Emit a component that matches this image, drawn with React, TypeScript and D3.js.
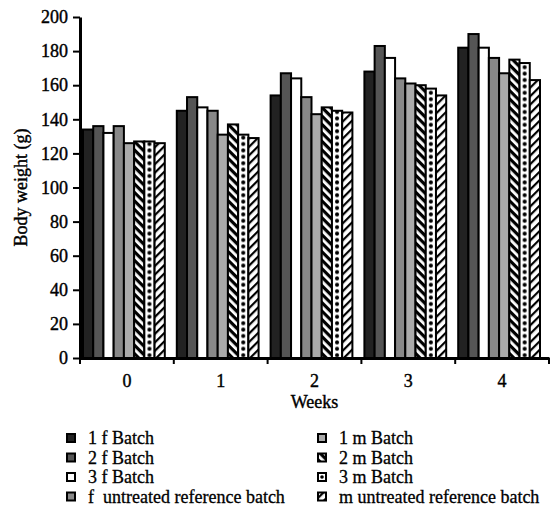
import { useRef, useEffect } from 'react';
import * as d3 from 'd3';

const weeks = ['0', '1', '2', '3', '4'];
const batches = [
  '1 f Batch',
  '2 f Batch',
  '3 f Batch',
  'f  untreated reference batch',
  '1 m Batch',
  '2 m Batch',
  '3 m Batch',
  'm untreated reference batch',
];
// one array per batch, values for weeks 0..4
const f1 = [134, 145, 154, 168, 182];
const f2 = [136, 153, 167, 183, 190];
const f3 = [132, 147, 164, 176, 182];
const fRef = [136, 145, 153, 164, 176];
const m1 = [126, 131, 143, 161, 167];
const m2 = [127, 137, 147, 160, 175];
const m3 = [127, 131, 145, 158, 173];
const mRef = [126, 129, 144, 154, 163];
const series = [f1, f2, f3, fRef, m1, m2, m3, mRef];
const yTicks = [0, 20, 40, 60, 80, 100, 120, 140, 160, 180, 200];

const fills = ['#222', '#555', '#fff', '#888', '#aaa', 'url(#hatchA)', 'url(#dots)', 'url(#hatchB)'];
const legendFills = ['#222', '#555', '#fff', '#888', '#aaa', 'url(#hatchA)', 'url(#dotsL)', 'url(#hatchB)'];
const font = '"Liberation Serif", "DejaVu Serif", serif';

export default function App() {
  const gx = useRef<SVGGElement>(null);
  const gy = useRef<SVGGElement>(null);

  const width = 557;
  const height = 515;
  const left = 80;
  const right = 549;
  const top = 17;
  const bottom = 358;

  const x = d3.scaleBand().domain(weeks).range([left, right]);
  const inner = d3
    .scaleBand<number>()
    .domain(d3.range(batches.length))
    .range([3, x.bandwidth() - 9]);
  const y = d3.scaleLinear().domain([0, 200]).range([bottom, top]);
  const dotX = (inner(6) ?? 0) + inner.bandwidth() / 2;

  useEffect(() => {
    const ax = gx.current;
    const ay = gy.current;
    if (ax) {
      const sel = d3.select(ax);
      sel.call(d3.axisBottom(x).tickSize(0).tickPadding(16));
      sel.select('.domain').attr('stroke-width', 3);
      // boundary ticks between the week groups
      sel
        .selectAll('line.sep')
        .data(d3.range(weeks.length + 1))
        .join('line')
        .attr('class', 'sep')
        .attr('x1', (i) => left + i * x.step())
        .attr('x2', (i) => left + i * x.step())
        .attr('y1', 0)
        .attr('y2', 6)
        .attr('stroke', '#000')
        .attr('stroke-width', 2);
      sel
        .selectAll('text')
        .attr('font-family', font)
        .attr('font-size', 18)
        .attr('fill', '#000')
        .attr('stroke', '#000')
        .attr('stroke-width', 0.4);
    }
    if (ay) {
      const sel = d3.select(ay);
      sel.call(d3.axisLeft(y).tickValues(yTicks).tickSize(7).tickPadding(5).tickSizeOuter(0));
      sel.select('.domain').attr('stroke-width', 3);
      sel.selectAll('.tick line').attr('stroke-width', 2);
      sel
        .selectAll('text')
        .attr('font-family', font)
        .attr('font-size', 18)
        .attr('fill', '#000')
        .attr('stroke', '#000')
        .attr('stroke-width', 0.4);
    }
    return () => {
      d3.select(ax).selectAll('*').remove();
      d3.select(ay).selectAll('*').remove();
    };
  });

  return (
    <svg width={width} height={height} style={{ position: 'absolute', left: 0, top: 0 }}>
      <defs>
        <pattern id="hatchA" width="6" height="6" patternUnits="userSpaceOnUse" patternTransform="rotate(45)">
          <rect width="6" height="6" fill="#fff" />
          <rect width="6" height="3.2" fill="#000" />
        </pattern>
        <pattern id="hatchB" width="6" height="6" patternUnits="userSpaceOnUse" patternTransform="rotate(-45)">
          <rect width="6" height="6" fill="#fff" />
          <rect width="6" height="2.2" fill="#000" />
        </pattern>
        <pattern id="dots" x={dotX - 5} y={0} width="10" height="6.4" patternUnits="userSpaceOnUse">
          <rect width="10" height="6.4" fill="#fff" />
          <circle cx="5" cy="3.2" r="2" fill="#000" />
        </pattern>
        <pattern id="dotsL" x={-1} y={-5} width="10" height="10" patternUnits="userSpaceOnUse">
          <rect width="10" height="10" fill="#fff" />
          <circle cx="5" cy="5" r="1.8" fill="#000" />
        </pattern>
      </defs>
      {weeks.map((w, wi) => (
        <g key={w} transform={`translate(${x(w)},0)`}>
          {series.map((s, si) => (
            <rect
              key={si}
              x={inner(si)}
              y={y(s[wi])}
              width={inner.bandwidth()}
              height={y(0) - y(s[wi])}
              fill={fills[si]}
              stroke="#000"
              strokeWidth={2}
            />
          ))}
        </g>
      ))}
      <g ref={gx} transform={`translate(0,${bottom})`} />
      <g ref={gy} transform={`translate(${left},0)`} />
      <text
        transform={`translate(27,${(top + bottom) / 2}) rotate(-90)`}
        textAnchor="middle"
        fontFamily={font}
        fontSize={18}
        stroke="#000"
        strokeWidth={0.4}
      >
        Body weight (g)
      </text>
      <text
        x={(left + right) / 2}
        y={408}
        textAnchor="middle"
        fontFamily={font}
        fontSize={18}
        stroke="#000"
        strokeWidth={0.4}
      >
        Weeks
      </text>
      {batches.map((b, i) => {
        const col = Math.floor(i / 4);
        const row = i % 4;
        const lx = col === 0 ? 67 : 318;
        const ly = 438 + row * 19.5;
        return (
          <g key={b} transform={`translate(${lx},${ly})`}>
            <rect x={0} y={-4} width={8} height={8} fill={legendFills[i]} stroke="#000" strokeWidth={2} />
            <text
              x={21}
              y={6}
              fontFamily={font}
              fontSize={18}
              stroke="#000"
              strokeWidth={0.3}
              xmlSpace="preserve"
            >
              {b}
            </text>
          </g>
        );
      })}
    </svg>
  );
}
